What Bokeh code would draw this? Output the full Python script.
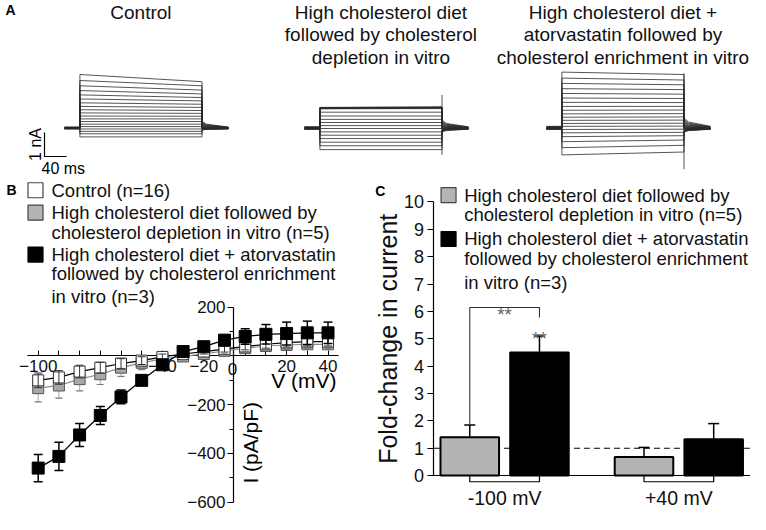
import math
from bokeh.plotting import figure
from bokeh.layouts import column, row
from bokeh.models import Range1d, FixedTicker
from bokeh.core.properties import value
from bokeh.embed import file_html
from bokeh.resources import INLINE

FONT = "Liberation Sans"

# ---------------- Panel A data (current traces, nA relative to holding) -------------
rec_titles = [
    ["Control"],
    ["High cholesterol diet", "followed by cholesterol", "depletion in vitro"],
    ["High cholesterol diet +", "atorvastatin followed by", "cholesterol enrichment in vitro"],
]
ctrl_start = [2.25, 2.00, 1.78, 1.58, 1.40, 1.23, 1.07, 0.92, 0.78, 0.65, 0.52, 0.40, 0.29, 0.18, 0.08, -0.02, -0.12, -0.22, -0.35]
ctrl_end = [1.95, 1.78, 1.60, 1.44, 1.29, 1.15, 1.01, 0.88, 0.75, 0.63, 0.51, 0.40, 0.29, 0.18, 0.08, -0.02, -0.12, -0.22, -0.35]
ctrl_tail = [0.30, 0.26, 0.22, 0.19, 0.16, 0.13, 0.10, 0.08, 0.06, 0.04, 0.02, 0.01, 0.00, -0.01, -0.02, -0.03, -0.04, -0.05, -0.06]
mid_start = [0.88, 0.87, 0.86, 0.85, 0.84, 0.83, 0.82, 0.68, 0.52, 0.38, 0.25, 0.12, 0.00, -0.14, -0.28, -0.42, -0.57, -0.72, -0.88]
mid_end = [0.90, 0.89, 0.88, 0.87, 0.86, 0.85, 0.83, 0.68, 0.52, 0.38, 0.25, 0.12, 0.00, -0.14, -0.28, -0.42, -0.57, -0.72, -0.88]
mid_tail = [0.35, 0.30, 0.26, 0.22, 0.18, 0.15, 0.12, 0.09, 0.06, 0.04, 0.02, 0.00, -0.02, -0.04, -0.06, -0.08, -0.10, -0.12, -0.14]
mid_artifact = [1.40, -1.10]
thr_start = [2.35, 2.10, 1.88, 1.66, 1.46, 1.27, 1.09, 0.92, 0.76, 0.61, 0.47, 0.34, 0.21, 0.09, -0.04, -0.18, -0.34, -0.55, -0.80, -1.10]
thr_end = [2.25, 2.02, 1.82, 1.62, 1.43, 1.25, 1.08, 0.92, 0.77, 0.62, 0.48, 0.35, 0.22, 0.10, -0.03, -0.16, -0.30, -0.48, -0.70, -0.98]
thr_tail = [0.45, 0.38, 0.32, 0.27, 0.22, 0.18, 0.14, 0.11, 0.08, 0.05, 0.03, 0.01, -0.01, -0.03, -0.05, -0.07, -0.09, -0.11, -0.13, -0.15]
thr_artifact = [2.30, -1.70]
pre_ms, step_ms, post_ms = 28, 222, 48
scale_nA, scale_ms = 1, 40

# ---------------- Panel B data (I-V) ----------------
Vm = [-100, -90, -80, -70, -60, -50, -40, -30, -20, -10, 0, 10, 20, 30, 40]
ctrl_I = [-100, -88, -64, -48, -31, -19, -4, 8, 18, 28, 39, 48, 55, 59, 59]
ctrl_err = [30, 28, 26, 22, 20, 16, 12, 10, 10, 12, 14, 16, 18, 18, 18]
depl_I = [-132, -121, -95, -75, -48, -28, -12, -2, 8, 21, 32, 41, 45, 48, 48]
depl_err = [56, 52, 48, 42, 36, 28, 20, 14, 12, 12, 14, 16, 18, 18, 18]
enr_I = [-460, -412, -324, -244, -168, -100, -36, 18, 38, 65, 80, 89, 92, 95, 95]
enr_err = [56, 58, 47, 37, 28, 20, 16, 10, 10, 20, 32, 40, 47, 48, 44]
b_xticks = [-100, -80, -60, -40, -20, 0, 20, 40]
b_xminor = [-90, -70, -50, -30, -10, 10, 30]
b_yticks = [-600, -400, -200, 0, 200]
b_yminor = [-500, -300, -100, 100]
legB = [
    ("white", ["Control (n=16)"]),
    ("#b4b4b4", ["High cholesterol diet followed by", "cholesterol depletion in vitro (n=5)"]),
    ("black", ["High cholesterol diet + atorvastatin", "followed by cholesterol enrichment", "in vitro (n=3)"]),
]

# ---------------- Panel C data (fold change) ----------------
groups = ["-100 mV", "+40 mV"]
depl_fc = [1.40, 0.68]
depl_fc_err = [0.45, 0.35]
enr_fc = [4.50, 1.33]
enr_fc_err = [0.60, 0.57]
c_yticks = list(range(0, 11))
legC = [
    ("#b4b4b4", ["High cholesterol diet followed by", "cholesterol depletion in vitro (n=5)"]),
    ("black", ["High cholesterol diet + atorvastatin", "followed by cholesterol enrichment", "in vitro (n=3)"]),
]

GRAY = "#b4b4b4"
LEG_FS = "18.5px"
H_A = 178
H_BC = 514 - H_A
W_B = 365
W_C = 750 - W_B
# lower row: reference rows are squeezed slightly so that everything fits
SQ = 0.975


def ref_row(fig_px):
    """reference pixel row shown at a given pixel row of panels B and C"""
    return 192 + (fig_px - 1) / SQ


def base_fig(w, h, xr, yr):
    p = figure(width=w, height=h, x_range=xr, y_range=yr, toolbar_location=None,
               output_backend="svg", min_border=0, min_border_left=0, min_border_right=0,
               min_border_top=0, min_border_bottom=0, outline_line_color=None)
    p.grid.visible = False
    return p


# ================= Panel A =================
A_PX_MS = 0.55
A_PX_NA = 24.0
A_HOLD = 128


def ax(rx):
    return rx / A_PX_MS


def ay(ry):
    return (A_HOLD - ry) / A_PX_NA


pA = base_fig(750, H_A, Range1d(0, 750 / A_PX_MS), Range1d(ay(H_A), ay(0)))
pA.axis.visible = False

rec_offsets = [ax(64), ax(304), ax(546)]
recs = [(ctrl_start, ctrl_end, ctrl_tail, None),
        (mid_start, mid_end, mid_tail, mid_artifact),
        (thr_start, thr_end, thr_tail, thr_artifact)]
xs, ys = [], []
for off, (st, en, tl, art) in zip(rec_offsets, recs):
    t_on = off + pre_ms
    t_off = t_on + step_ms
    t_end = t_off + post_ms
    for s, e, t in zip(st, en, tl):
        xs.append([off, t_on, t_on, t_off, t_off, t_off + 8, t_end])
        ys.append([t * 0.2, t * 0.2, s, e, t, t * 0.6, t * 0.2])
    if art is not None:
        xs.append([t_off, t_off])
        ys.append(art)
pA.multi_line(xs, ys, line_color="#2a2a2a", line_width=0.8)

for off, lines in zip(rec_offsets, rec_titles):
    cxm = off + pre_ms + step_ms / 2
    pA.text(x=[cxm] * len(lines), y=[ay(11.5 + 22.5 * i) for i in range(len(lines))], text=lines,
            text_font=value(FONT), text_font_size="19px", text_align="center",
            text_baseline="middle", text_color="#111111")

pA.text(x=[ax(5)], y=[ay(9)], text=["A"], text_font=value(FONT), text_font_size="14px",
        text_font_style="bold", text_align="left", text_baseline="middle")

# scale bar
sb_x = ax(44)
sb_y = ay(156)
pA.line([sb_x, sb_x, sb_x + scale_ms], [sb_y + scale_nA, sb_y, sb_y], line_color="black", line_width=1.2)
pA.text(x=[ax(35)], y=[sb_y + scale_nA / 2], text=[f"{scale_nA} nA"], angle=math.pi / 2,
        text_font=value(FONT), text_font_size="16px", text_align="center", text_baseline="middle")
pA.text(x=[ax(41)], y=[ay(168)], text=[f"{scale_ms} ms"], text_font=value(FONT), text_font_size="16px",
        text_align="left", text_baseline="middle")

# ================= Panel B =================
B_PX = 2.07
B_X0 = -100 - 37.7 / B_PX


def bx(rx):
    return B_X0 + rx / B_PX


def by(ry):
    return (373 - ry) * 4.0


YAX_B = bx(233)
pB = base_fig(W_B, H_BC, Range1d(B_X0, B_X0 + W_B / B_PX),
              Range1d(by(ref_row(H_BC)), by(ref_row(0))))
xa = pB.xaxis[0]
ya = pB.yaxis[0]
xa.fixed_location = 0
ya.fixed_location = YAX_B
xa.bounds = (-105, 45)
ya.bounds = (-600, 200)
xa.ticker = FixedTicker(ticks=b_xticks, minor_ticks=b_xminor)
ya.ticker = FixedTicker(ticks=b_yticks, minor_ticks=b_yminor)
xa.major_label_overrides = {0: "", -80: "", -60: ""}
ya.major_label_overrides = {0: ""}
for a in (xa, ya):
    a.axis_line_color = "black"
    a.axis_line_width = 1.2
    a.major_tick_line_color = "black"
    a.minor_tick_line_color = "black"
    a.major_label_text_font = FONT
    a.major_label_text_font_size = "17px"
    a.major_label_text_color = "#111111"
    a.level = "underlay"
xa.major_tick_in = 5
xa.major_tick_out = 0
xa.minor_tick_in = 5
xa.minor_tick_out = 0
xa.major_label_standoff = 4
ya.major_tick_in = 0
ya.major_tick_out = 6
ya.minor_tick_in = 0
ya.minor_tick_out = 4
ya.major_label_standoff = 2

pB.text(x=[YAX_B], y=[0], x_offset=-1, y_offset=7, text=["0"], text_font=value(FONT), text_font_size="17px",
        text_align="center", text_baseline="top", text_color="#111111", level="underlay")
pB.text(x=[YAX_B], y=[by(462)], x_offset=17, text=["I (pA/pF)"], angle=math.pi / 2,
        text_font=value(FONT), text_font_size="21px", text_align="center", text_baseline="middle")
pB.text(x=[bx(336)], y=[by(398)], text=["V (mV)"], text_font=value(FONT), text_font_size="21px",
        text_align="right", text_baseline="middle")

# gray (depletion) series
pB.line(Vm, depl_I, line_color="#8c8c8c", line_width=1.2)
pB.segment(x0=Vm, y0=[v - e for v, e in zip(depl_I, depl_err)], x1=Vm,
           y1=[v + e for v, e in zip(depl_I, depl_err)], line_color="#b8b8b8", line_width=1.2)
pB.scatter(Vm, [v - e for v, e in zip(depl_I, depl_err)], marker="dash", size=8, line_color="#b8b8b8", line_width=1.2)
pB.scatter(Vm, [v + e for v, e in zip(depl_I, depl_err)], marker="dash", size=8, line_color="#b8b8b8", line_width=1.2)
pB.scatter(Vm, depl_I, marker="square", size=11, fill_color="#a8a8a8", line_color="#555555", line_width=1)
# control series
pB.line(Vm, ctrl_I, line_color="black", line_width=1.2)
pB.scatter(Vm, ctrl_I, marker="square", size=11, fill_color="white", line_color="#333333", line_width=1)
pB.segment(x0=Vm, y0=[v - e for v, e in zip(ctrl_I, ctrl_err)], x1=Vm,
           y1=[v + e for v, e in zip(ctrl_I, ctrl_err)], line_color="#333333", line_width=1)
pB.scatter(Vm, [v - e for v, e in zip(ctrl_I, ctrl_err)], marker="dash", size=8, line_color="#333333", line_width=1)
pB.scatter(Vm, [v + e for v, e in zip(ctrl_I, ctrl_err)], marker="dash", size=8, line_color="#333333", line_width=1)
pB.scatter(Vm, [v - e for v, e in zip(depl_I, depl_err)], marker="dash", size=6, line_color="#777777", line_width=1)
# enrichment series
pB.segment(x0=Vm, y0=[v - e for v, e in zip(enr_I, enr_err)], x1=Vm,
           y1=[v + e for v, e in zip(enr_I, enr_err)], line_color="black", line_width=1.5)
pB.scatter(Vm, [v - e for v, e in zip(enr_I, enr_err)], marker="dash", size=9, line_color="black", line_width=1.5)
pB.scatter(Vm, [v + e for v, e in zip(enr_I, enr_err)], marker="dash", size=9, line_color="black", line_width=1.5)
pB.line(Vm, enr_I, line_color="black", line_width=1.3)
pB.scatter(Vm, enr_I, marker="square", size=12, fill_color="black", line_color="black", line_width=1)

# legend B
pB.text(x=[bx(11)], y=[by(203)], text=["B"], text_font=value(FONT), text_font_size="14px",
        text_font_style="bold", text_align="center", text_baseline="middle")
leg_rows_B = [[203], [226, 246], [269, 288, 312]]
for (col, lines), rows in zip(legB, leg_rows_B):
    pB.scatter([bx(35)], [by(rows[0])], marker="square", size=15, fill_color=col,
               line_color="#444444" if col != "black" else "black", line_width=1.2)
    pB.text(x=[bx(51)] * len(lines), y=[by(r) for r in rows], text=lines, text_font=value(FONT),
            text_font_size=LEG_FS, text_align="left", text_baseline="middle", text_color="#111111")

# ================= Panel C =================
C_PX = 178.7   # reference pixels per group step
C_PY = 28.07   # reference pixels per unit of fold change


def cx(rx):
    return (rx - 507.5) / C_PX


def cy(ry):
    return (495.7 - ry) / C_PY


c_left_ref = 372 + (W_B - 372) / SQ
c_right_ref = 372 + (750 - 372) / SQ
YAX_C = cx(435)
pC = base_fig(W_C, H_BC, Range1d(cx(c_left_ref), cx(c_right_ref)),
              Range1d(cy(ref_row(H_BC)), cy(ref_row(0))))
cxa = pC.xaxis[0]
cya = pC.yaxis[0]
cxa.fixed_location = 0
cya.fixed_location = YAX_C
cxa.bounds = (YAX_C, cx(c_right_ref))
cya.bounds = (0, 10)
cxa.ticker = FixedTicker(ticks=[0, 1])
cxa.major_label_overrides = {0: groups[0], 1: groups[1]}
cya.ticker = FixedTicker(ticks=c_yticks, minor_ticks=[])
for a in (cxa, cya):
    a.axis_line_color = "black"
    a.axis_line_width = 1.2
    a.major_tick_line_color = "black"
    a.major_label_text_font = FONT
    a.major_label_text_color = "#111111"
cxa.major_tick_in = 0
cxa.major_tick_out = 0
cxa.minor_tick_in = 0
cxa.minor_tick_out = 0
cxa.major_label_standoff = 11
cxa.major_label_text_font_size = "19.5px"
cya.major_tick_in = 0
cya.major_tick_out = 6
cya.major_label_standoff = 4
cya.major_label_text_font_size = "18px"

pC.text(x=[cx(388)], y=[5], text=["Fold-change in current"], angle=math.pi / 2,
        text_font=value(FONT), text_font_size="25px", text_align="center", text_baseline="middle",
        text_color="#111111")

gx = [0, 1]
off = 0.2
bw = 0.336
x_depl = [g - off for g in gx]
x_enr = [g + off for g in gx]

# dashed reference line at 1
pC.line([YAX_C, cx(c_right_ref)], [1, 1], line_color="black", line_width=1.2, line_dash="6 4")

pC.vbar(x=x_depl, top=depl_fc, width=bw, fill_color=GRAY, line_color="black", line_width=2)
pC.vbar(x=x_enr, top=enr_fc, width=bw, fill_color="black", line_color="black", line_width=2)
for xx, vv, ee in ((x_depl, depl_fc, depl_fc_err), (x_enr, enr_fc, enr_fc_err)):
    pC.segment(x0=xx, y0=vv, x1=xx, y1=[v + e for v, e in zip(vv, ee)], line_color="black", line_width=1.5)
    pC.scatter(xx, [v + e for v, e in zip(vv, ee)], marker="dash", size=11, line_color="black", line_width=1.5)

# group brackets below axis
pC.multi_line(xs=[[a, a, b, b] for a, b in zip(x_depl, x_enr)],
              ys=[[0, cy(502), cy(502), 0] for _ in gx], line_color="black", line_width=1.2)

# significance bracket
top_l = depl_fc[0] + depl_fc_err[0]
pC.line([x_depl[0], x_depl[0], x_enr[0], x_enr[0]], [top_l, cy(323.3), cy(323.3), cy(333.5)],
        line_color="#333333", line_width=1.1)
pC.text(x=[gx[0], x_enr[0]], y=[cy(330), cy(355)], text=["**", "**"], text_font=value(FONT),
        text_font_size="19px", text_align="center", text_baseline="alphabetic", text_color="#666666")

# legend C
pC.text(x=[cx(380)], y=[cy(204)], text=["C"], text_font=value(FONT), text_font_size="14px",
        text_font_style="bold", text_align="center", text_baseline="middle")
leg_rows_C = [[208, 228], [253, 273, 298]]
for (col, lines), rows in zip(legC, leg_rows_C):
    pC.scatter([cx(450)], [cy(rows[0])], marker="square", size=15, fill_color=col,
               line_color="#444444" if col != "black" else "black", line_width=1.2)
    pC.text(x=[cx(466)] * len(lines), y=[cy(r) for r in rows], text=lines, text_font=value(FONT),
            text_font_size=LEG_FS, text_align="left", text_baseline="middle", text_color="#111111")

layout = column(pA, row(pB, pC, spacing=0), spacing=0)
open("out.html", "w").write(file_html(layout, INLINE))
